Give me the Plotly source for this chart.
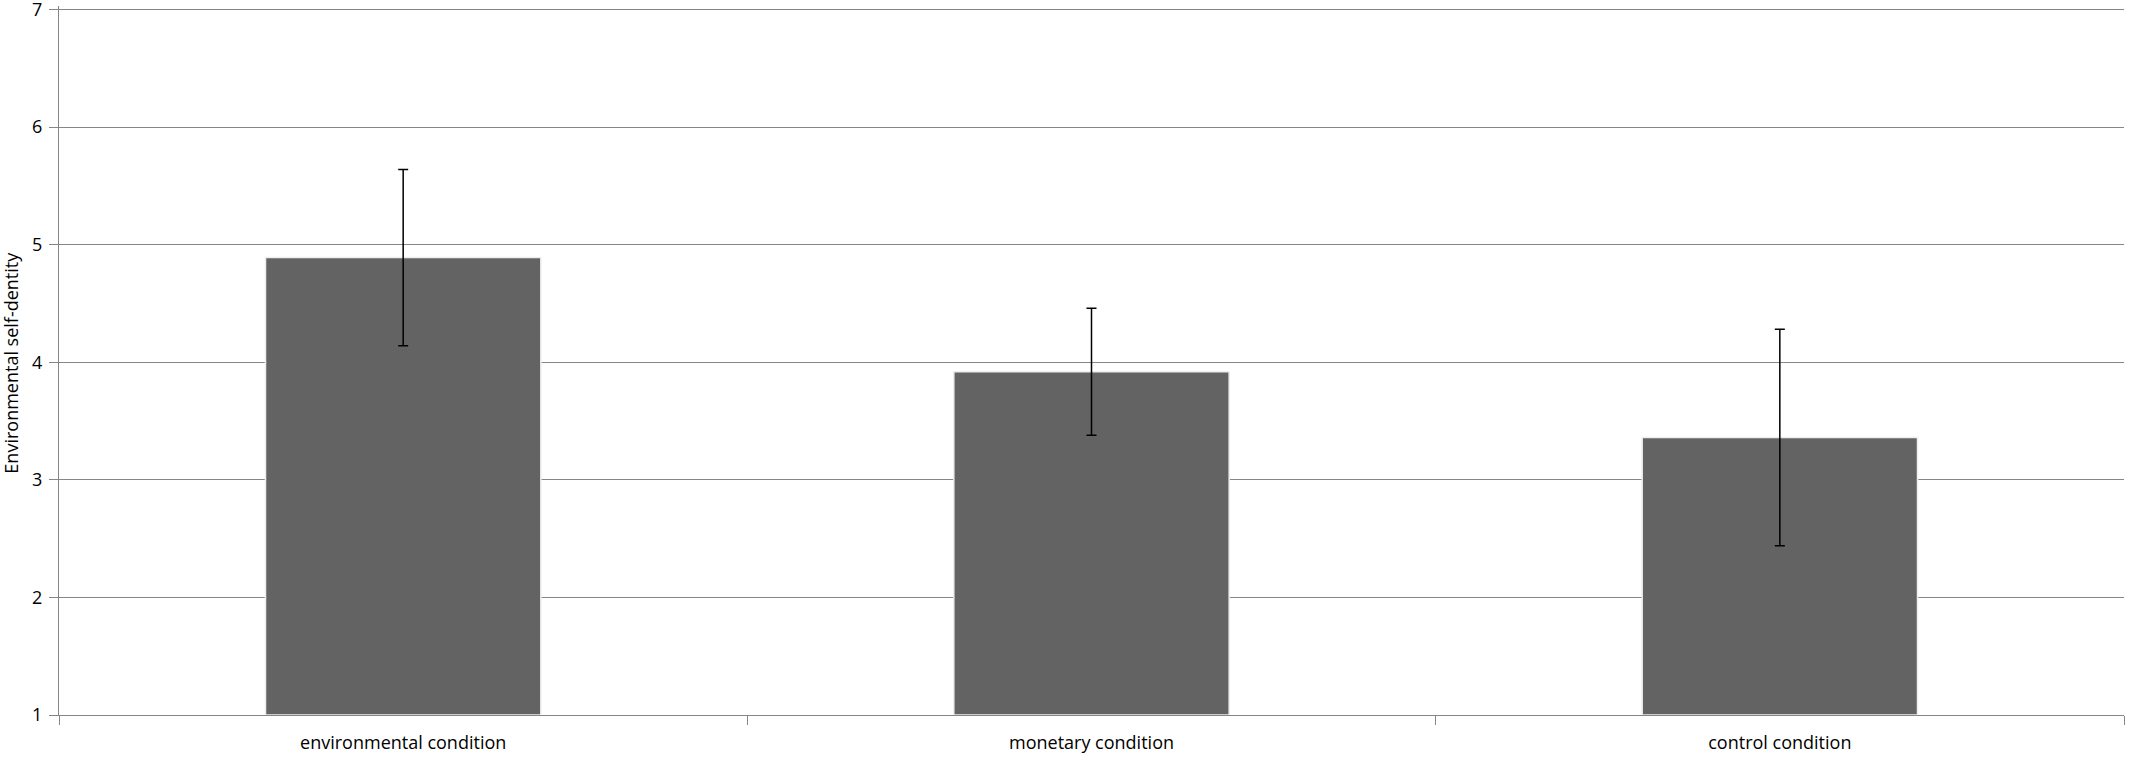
import plotly.graph_objects as go

categories = ["environmental condition", "monetary condition", "control condition"]
means = [4.89, 3.92, 3.36]
errors = [0.75, 0.54, 0.92]
y_ticks = [1, 2, 3, 4, 5, 6, 7]
y_title = "Environmental self-dentity"

FONT = "Open Sans, sans-serif"
W, H = 2133, 757
L, R, T, B = 59, 9, 6, 42
GRID = "#868686"

fig = go.Figure()
fig.add_trace(go.Bar(
    x=categories,
    y=[m - 1 for m in means],
    base=1,
    marker=dict(color="#636363", line=dict(color="#eeeeee", width=1.5)),
    error_y=dict(type="data", array=errors, color="black", thickness=1.5, width=5),
    width=0.4,
    hoverinfo="skip",
))

fig.update_layout(
    width=W, height=H,
    paper_bgcolor="white", plot_bgcolor="white",
    margin=dict(l=L, r=R, t=T, b=B),
    showlegend=False,
    font=dict(family=FONT, color="black"),
)
fig.update_xaxes(
    type="category",
    tickson="boundaries",
    ticks="outside", ticklen=9, tickcolor=GRID,
    showline=True, linecolor=GRID, linewidth=1,
    showgrid=False,
    tickfont=dict(size=18, family=FONT, color="black"),
    ticklabelstandoff=11,
    automargin=False,
)
fig.update_yaxes(
    range=[1, 7.03],
    tickvals=y_ticks,
    ticks="outside", ticklen=9, tickcolor=GRID,
    showline=True, linecolor=GRID, linewidth=1,
    showgrid=True, gridcolor=GRID, gridwidth=1,
    zeroline=False,
    tickfont=dict(size=18, family=FONT, color="black"),
    ticklabelstandoff=3,
    ticklabeloverflow="allow",
    automargin=False,
)
# top gridline at the maximum tick value
fig.add_shape(type="line", xref="paper", yref="y", x0=0, x1=1,
              y0=y_ticks[-1], y1=y_ticks[-1],
              line=dict(color=GRID, width=1), layer="below")
fig.add_annotation(
    text=y_title, textangle=-90,
    xref="paper", yref="paper",
    x=(11 - L) / (W - L - R), y=0.497,
    xanchor="center", yanchor="middle",
    showarrow=False,
    font=dict(size=18, family=FONT, color="black"),
)

fig.write_html("out.html", config={"displayModeBar": False},
               post_script="document.body.style.margin='0';")
